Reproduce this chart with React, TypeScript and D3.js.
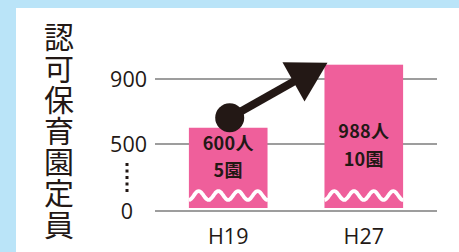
import React, { useEffect, useRef } from "react";
import * as d3 from "d3";

// chart data
const categories = ["H19", "H27"];
const capacity = [600, 988];
const nurseries = [5, 10];
const yTicks = [0, 500, 900];
const title = "認可保育園定員";

const W = 459;
const H = 252;
const pink = "#ef5f9b";
const dark = "#231815";
const grid = "#9d9d9d";

const App = () => {
  const svgRef = useRef<SVGSVGElement>(null);

  useEffect(() => {
    const svg = d3.select(svgRef.current);
    svg.selectAll("*").remove();

    // broken axis: 0..500 is squeezed, 500..900 is to scale
    const y = d3.scaleLinear().domain([0, 500, 900]).range([211, 144, 79]);
    const x = d3
      .scaleBand()
      .domain(categories)
      .range([155, 437])
      .paddingInner(0.42)
      .paddingOuter(0.25);

    // background frame
    svg.append("rect").attr("width", W).attr("height", H).attr("fill", "#bae4f8");
    svg.append("rect").attr("x", 16).attr("y", 8).attr("width", W).attr("height", H).attr("fill", "#fff");

    // vertical title, one text in vertical writing mode
    svg
      .append("text")
      .attr("x", 59)
      .attr("y", 22)
      .style("writing-mode", "vertical-rl")
      .attr("font-family", "'Noto Sans CJK JP'")
      .attr("font-size", 30)
      .attr("letter-spacing", 1.2)
      .attr("fill", dark)
      .text(title);

    // grid lines
    svg
      .append("g")
      .selectAll("line")
      .data(yTicks)
      .join("line")
      .attr("x1", 155)
      .attr("x2", 437)
      .attr("y1", (d) => y(d))
      .attr("y2", (d) => y(d))
      .attr("stroke", grid)
      .attr("stroke-width", 2);

    // y labels (0 sits under the middle digit, like the original)
    svg
      .append("g")
      .selectAll("text")
      .data(yTicks)
      .join("text")
      .attr("x", (d) => (d === 0 ? 127 : 147))
      .attr("y", (d) => y(d) + 8)
      .attr("text-anchor", (d) => (d === 0 ? "middle" : "end"))
      .attr("font-family", "'Open Sans'")
      .attr("font-size", 21.5)
      .attr("fill", dark)
      .text((d) => d);

    // dotted break marker between 0 and 500
    svg
      .append("line")
      .attr("x1", 127)
      .attr("x2", 127)
      .attr("y1", y(500) + 19)
      .attr("y2", y(0) - 18)
      .attr("stroke", dark)
      .attr("stroke-width", 3)
      .attr("stroke-dasharray", "3 3.5");

    // bars
    const bars = svg.append("g");
    bars
      .selectAll("rect")
      .data(capacity)
      .join("rect")
      .attr("x", (d, i) => x(categories[i])!)
      .attr("y", (d) => y(d))
      .attr("width", x.bandwidth())
      .attr("height", (d) => y(0) - 3 - y(d))
      .attr("fill", pink);

    // wavy white break line across each bar
    const wave = (x0: number) =>
      d3.line().curve(d3.curveBasis)(
        d3.range(0, x.bandwidth() + 0.5, 1).map((t) => [
          x0 + t,
          195.5 + 4.5 * Math.cos((2 * Math.PI * t) / (x.bandwidth() / 4)),
        ])
      );
    bars
      .selectAll("path")
      .data(categories)
      .join("path")
      .attr("d", (d) => wave(x(d)!))
      .attr("fill", "none")
      .attr("stroke", "#fff")
      .attr("stroke-width", 3.8);

    // two-line labels in bars (first-line offset above the zero line, line gap)
    const labelPos = [
      [61, 26.5],
      [73, 28],
    ];
    const lbl = svg
      .append("g")
      .attr("font-family", "'Noto Sans CJK JP'")
      .attr("font-weight", 700)
      .attr("font-size", 18)
      .attr("letter-spacing", 0.3)
      .attr("fill", dark)
      .attr("text-anchor", "middle");
    categories.forEach((c, i) => {
      const cx = x(c)! + x.bandwidth() / 2;
      const t = lbl.append("text").attr("x", cx).attr("y", y(0) - labelPos[i][0]);
      t.append("tspan").attr("x", cx).text(`${capacity[i]}人`);
      t.append("tspan").attr("x", cx).attr("dy", labelPos[i][1]).text(`${nurseries[i]}園`);
    });

    // x labels
    svg
      .append("g")
      .selectAll("text")
      .data(categories)
      .join("text")
      .attr("x", (d) => x(d)! + x.bandwidth() / 2)
      .attr("y", 244)
      .attr("text-anchor", "middle")
      .attr("font-family", "'Open Sans'")
      .attr("font-size", 21.5)
      .attr("fill", dark)
      .text((d) => d);

    // growth arrow: dot on the H19 bar, head at the H27 bar's top-left
    const sx = x(categories[0])! + x.bandwidth() / 2 + 1.5;
    const sy = y(capacity[0]) - 10;
    const tx = x(categories[1])! + 3;
    const ty = y(capacity[1]) - 2;
    const ang = Math.atan2(ty - sy, tx - sx);
    const headLen = 39;
    const headHalf = 22.5;
    const bx = tx - headLen * Math.cos(ang);
    const by = ty - headLen * Math.sin(ang);
    const px = -Math.sin(ang);
    const py = Math.cos(ang);
    svg
      .append("line")
      .attr("x1", sx)
      .attr("y1", sy)
      .attr("x2", bx + 2 * Math.cos(ang))
      .attr("y2", by + 2 * Math.sin(ang))
      .attr("stroke", dark)
      .attr("stroke-width", 8);
    svg
      .append("circle")
      .attr("cx", sx)
      .attr("cy", sy)
      .attr("r", 14.5)
      .attr("fill", dark);
    svg
      .append("path")
      .attr(
        "d",
        `M${tx},${ty}L${bx + headHalf * px},${by + headHalf * py}L${bx - headHalf * px},${by - headHalf * py}Z`
      )
      .attr("fill", dark);
  }, []);

  return (
    <svg
      ref={svgRef}
      width={W}
      height={H}
      style={{ position: "absolute", left: 0, top: 0, display: "block" }}
    ></svg>
  );
};

export default App;
